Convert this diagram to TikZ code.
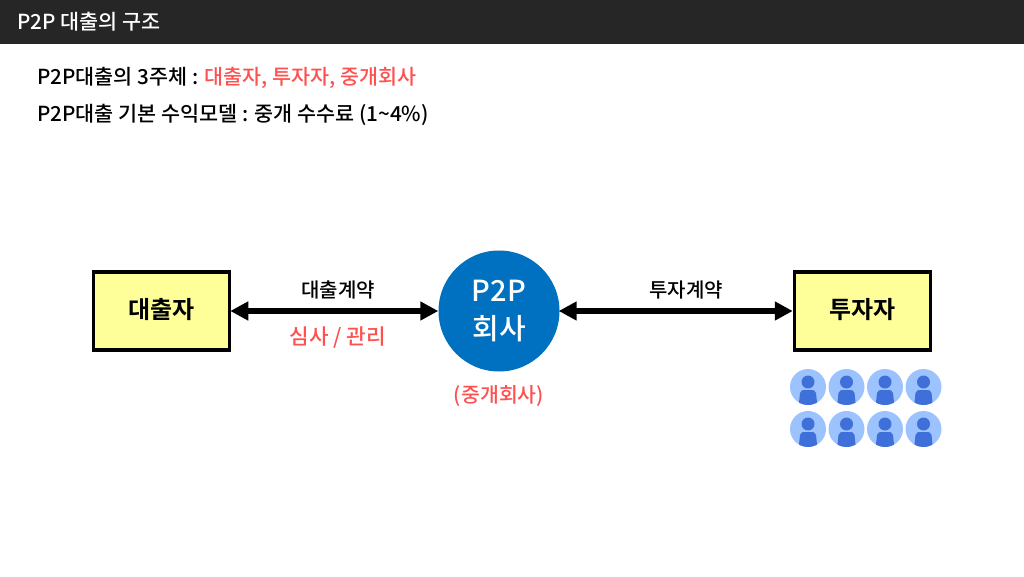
\documentclass[tikz,border=0pt]{standalone}
\usepackage{fontspec}
\setmainfont{Noto Sans CJK KR Medium}[BoldFont={Noto Sans CJK KR Bold}]
\usetikzlibrary{arrows.meta}
\definecolor{headgray}{HTML}{262626}
\definecolor{notered}{HTML}{FF5050}
\definecolor{hubblue}{HTML}{0070C0}
\definecolor{boxyellow}{HTML}{FFFF99}
\definecolor{peoplelight}{HTML}{9DC3FF}
\definecolor{peopledark}{HTML}{3F6FD8}
\tikzset{partybox/.style={draw, line width=3.5pt, fill=boxyellow, minimum width=136pt, minimum height=78pt, text depth=5pt, font=\bfseries\fontsize{24}{28}\selectfont},
  deal/.style={line width=5.5pt, shorten <=-1pt, {Triangle[length=18pt,width=18pt]}-{Triangle[length=18pt,width=18pt]}},
  note/.style={inner sep=0pt, anchor=base west, font=\fontsize{20.7}{24}\selectfont},
  tag/.style={inner sep=0pt, font=\fontsize{20}{24}\selectfont}}

\begin{document}
\begin{tikzpicture}[x=1pt, y=1pt]
  \useasboundingbox (0, 0) rectangle (1024, 576);
  \fill[headgray] (0, 532) rectangle (1024, 576);
  \node[note, text=white] at (17, 546.5) (title) {P2P 대출의 구조};
  \node[note] at (37, 491) (line1) {P2P대출의 3주체 : \textcolor{notered}{대출자, 투자자, 중개회사}};
  \node[note] at (37, 454.5) (line2) {P2P대출 기본 수익모델 : 중개 수수료 (1\textasciitilde4\%)};

  \node[partybox] at (161.5, 265) (borrower) {대출자};
  \node[partybox] at (862.5, 265) (investor) {투자자};
  \node[circle, fill=hubblue, text=white, minimum size=121pt, inner sep=0pt, align=center, font=\fontsize{29}{38}\selectfont] at (499, 265) (hub) {P2P\\회사};
  \draw[deal] (borrower) -- (hub);
  \draw[deal] (hub) -- (investor);

  \node[tag] at (338, 286) (loandeal) {대출계약};
  \node[tag, text=notered, font=\fontsize{21.3}{24}\selectfont] at (338, 238.5) (review) {심사 / 관리};
  \node[tag, text=notered, font=\fontsize{20.5}{24}\selectfont] at (499, 179.5) (broker) {(중개회사)};
  \node[tag] at (686, 286) (investdeal) {투자계약};

  \foreach \px [count=\i] in {808, 846.5, 885, 923.5} {
    \foreach \py [count=\j] in {189, 147} {
      \node[circle, fill=peoplelight, minimum size=36pt, inner sep=0pt] at (\px, \py) (person\i\j) {};
      \begin{scope}
        \clip (person\i\j.center) circle (18);
        \fill[peopledark] (\px, \py + 5) circle (6.5);
        \fill[peopledark] (\px - 9.5, \py - 20) -- (\px - 8, \py - 6) .. controls (\px - 7.5, \py - 3) and (\px - 5, \py - 3) .. (\px - 3, \py - 3) -- (\px + 3, \py - 3) .. controls (\px + 5, \py - 3) and (\px + 7.5, \py - 3) .. (\px + 8, \py - 6) -- (\px + 9.5, \py - 20) -- cycle;
      \end{scope}
    }
  }
\end{tikzpicture}
\end{document}
